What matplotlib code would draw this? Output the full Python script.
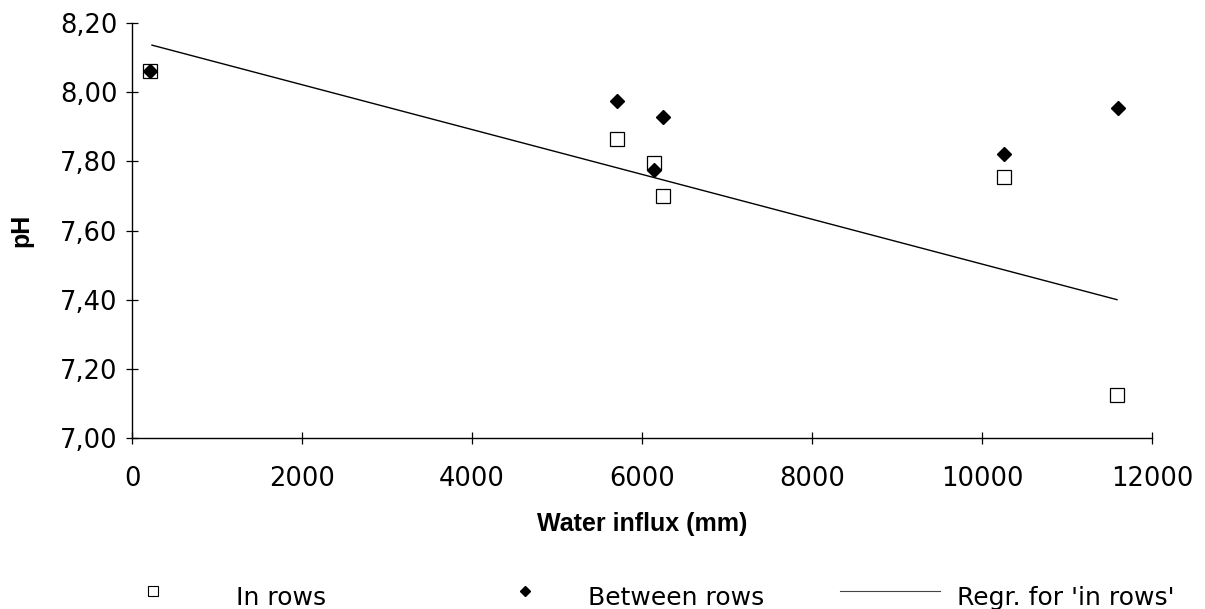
import matplotlib
matplotlib.use('Agg')
import matplotlib.pyplot as plt
from matplotlib.lines import Line2D
from matplotlib.ticker import FuncFormatter

# values
x_in = [212, 5706, 6141, 6247, 10259, 11588]
ph_in = [8.06, 7.865, 7.795, 7.70, 7.755, 7.125]

x_between = [212, 5706, 6141, 6247, 10259, 11600]
ph_between = [8.06, 7.975, 7.775, 7.928, 7.82, 7.954]

regr_x = [235, 11588]
regr_y = [8.136, 7.40]

legend_labels = ['In rows', 'Between rows', "Regr. for 'in rows'"]

plt.rcParams['font.family'] = ['DejaVu Sans']

W, H = 1205, 609
fig = plt.figure(figsize=(W / 100, H / 100), dpi=100)
ax = fig.add_axes([132 / W, 1 - 438 / H, 1020 / W, 415 / H])

ax.plot(regr_x, regr_y, color='black', lw=1.0, zorder=2)
ax.plot(x_in, ph_in, ls='none', marker='s', ms=9.5, mfc='white', mec='black',
        mew=0.9, zorder=3)
ax.plot(x_between, ph_between, ls='none', marker='D', ms=7, mfc='black',
        mec='black', zorder=4)

ax.set_xlim(0, 12000)
ax.set_ylim(7.0, 8.2)
ax.set_xticks(range(0, 12001, 2000))
ax.set_yticks([7.0, 7.2, 7.4, 7.6, 7.8, 8.0, 8.2])
ax.yaxis.set_major_formatter(FuncFormatter(lambda v, p: f'{v:.2f}'.replace('.', ',')))

for s in ['top', 'right']:
    ax.spines[s].set_visible(False)
for s in ['left', 'bottom']:
    ax.spines[s].set_linewidth(1.0)

ax.tick_params(axis='both', direction='inout', length=9, width=0.9,
               labelsize=18.5, colors='black')
ax.tick_params(axis='y', pad=6)
ax.tick_params(axis='x', pad=16)

lab_font = ['Liberation Sans', 'DejaVu Sans']
ax.set_xlabel('Water influx (mm)', fontsize=18, fontweight='bold', family=lab_font)
ax.xaxis.set_label_coords(0.5, -(512 - 438) / 415)
ax.set_ylabel('pH', fontsize=18, fontweight='bold', family=lab_font)
ax.yaxis.set_label_coords(-(133 - 34) / 1020, 0.5)

# legend row at the bottom
base = 1 - 605 / H
mark_y = 1 - 591 / H
fig.add_artist(Line2D([153 / W], [mark_y], transform=fig.transFigure,
                      marker='s', ms=7, mfc='white', mec='black', mew=0.8, ls='none'))
fig.text(236 / W, base, legend_labels[0], fontsize=18, va='baseline')
fig.add_artist(Line2D([525 / W], [mark_y], transform=fig.transFigure,
                      marker='D', ms=5, mfc='black', mec='black', ls='none'))
fig.text(588 / W, base, legend_labels[1], fontsize=18, va='baseline')
fig.add_artist(Line2D([840 / W, 940 / W], [mark_y, mark_y],
                      transform=fig.transFigure, color='#444444', lw=0.8))
fig.text(957 / W, base, legend_labels[2], fontsize=18, va='baseline')

fig.savefig('out.png', dpi=100)
